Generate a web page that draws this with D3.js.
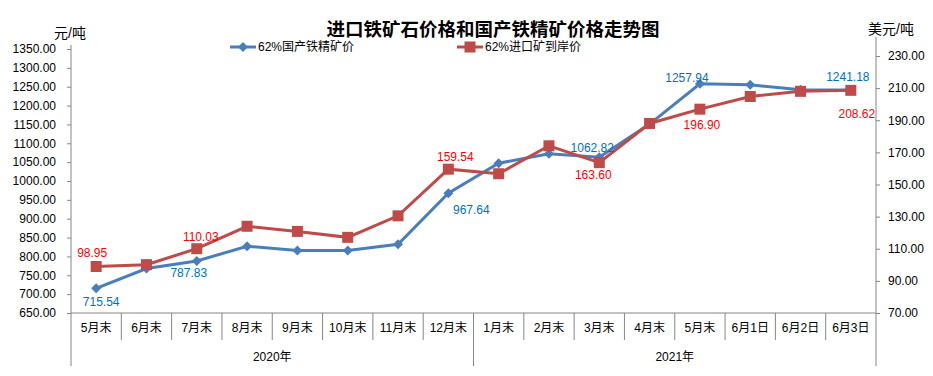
<!DOCTYPE html>
<html><head><meta charset="utf-8">
<script src="https://cdn.jsdelivr.net/npm/d3@7"></script>
<style>
body{margin:0;background:#fff;}
text{font-family:"Liberation Sans","Noto Sans CJK SC",sans-serif;}
</style></head>
<body><svg id="c" width="933" height="376"></svg>
<script>
const categories = ["5月末","6月末","7月末","8月末","9月末","10月末","11月末","12月末","1月末","2月末","3月末","4月末","5月末","6月1日","6月2日","6月3日"];
const years = [{name:"2020年", from:0, to:8},{name:"2021年", from:8, to:16}];
const domestic = [715.54,768,787.83,827,816,816,832,967.64,1047,1072,1062.82,1151,1257.94,1255,1242,1241.18];
const imported = [98.95,100.1,110.03,124,120.8,117.1,130.5,159.54,156.7,174.1,163.60,188,196.90,204.8,208,208.62];
const leftTicks = d3.range(650,1351,50);
const rightTicks = d3.range(70,231,20);
const domesticName = "62%国产铁精矿价";
const importedName = "62%进口矿到岸价";
const title = "进口铁矿石价格和国产铁精矿价格走势图";
const domesticLabelIdx = [0,2,7,10,12,15];
const importedLabelIdx = [0,2,7,10,12,15];

// layout (not data)
const domLabelOff = {0:[5,14],2:[-8,12],7:[23,17],10:[-7,-9],12:[-13,-6],15:[-3,-13]};
const impLabelOff = {0:[-4,-13],2:[4,-12],7:[7,-12],10:[-6,12],12:[2,16],15:[6,24]};
const L=71, R=876, T=49, B=313;
const blue="#4A7EBB", red="#BE4B48", axisCol="#868686";

const svg=d3.select("#c");
const x=d3.scaleBand().domain(d3.range(categories.length)).range([L,R]).padding(0);
const yL=d3.scaleLinear().domain([650,1350]).range([B,T]);
const yR=d3.scaleLinear().domain([70,230]).range([B,56]);

const gl=svg.append("g").attr("transform",`translate(${L},0)`)
  .call(d3.axisLeft(yL).tickValues(leftTicks).tickFormat(d3.format(".2f")).tickSize(4).tickPadding(11).tickSizeOuter(0));
const gr=svg.append("g").attr("transform",`translate(${R},0)`)
  .call(d3.axisRight(yR).tickValues(rightTicks).tickFormat(d3.format(".2f")).tickSize(4).tickPadding(8).tickSizeOuter(0));
[gl,gr].forEach(g=>{
  g.select(".domain").attr("stroke",axisCol);
  g.selectAll(".tick line").attr("stroke",axisCol);
  g.selectAll(".tick text").attr("font-size",12).attr("fill","#000");
});
gl.select(".domain").attr("d",`M0,${B}V${T-4}`);
gr.select(".domain").attr("d",`M0,${B}V${T-12}`);

svg.append("line").attr("x1",L).attr("x2",R).attr("y1",B).attr("y2",B).attr("stroke",axisCol);
const bounds=d3.range(categories.length+1);
svg.selectAll(".sep").data(bounds).join("line")
  .attr("x1",i=>i<categories.length?x(i):R).attr("x2",i=>i<categories.length?x(i):R)
  .attr("y1",B).attr("y2",i=>years.some(y=>y.from===i||y.to===i)?366:340)
  .attr("stroke",axisCol);
svg.selectAll(".cat").data(categories).join("text")
  .attr("x",(d,i)=>x(i)+x.bandwidth()/2).attr("y",328).attr("text-anchor","middle")
  .attr("dominant-baseline","central").attr("font-size",12).attr("fill","#000").text(d=>d);
svg.selectAll(".yr").data(years).join("text")
  .attr("x",d=>(x(d.from)+(d.to<categories.length?x(d.to):R))/2).attr("y",357)
  .attr("text-anchor","middle").attr("dominant-baseline","central").attr("font-size",12).attr("fill","#000").text(d=>d.name);

const cx=i=>x(i)+x.bandwidth()/2;
// blue series (primary axis) first
svg.append("path").datum(domestic).attr("fill","none").attr("stroke",blue).attr("stroke-width",3)
  .attr("d",d3.line().x((d,i)=>cx(i)).y(d=>yL(d)));
svg.selectAll(".dm").data(domestic).join("path")
  .attr("transform",(d,i)=>`translate(${cx(i)},${yL(d)})`).attr("d","M0,-5L5,0L0,5L-5,0Z").attr("fill",blue);
// red series (secondary axis) on top
svg.append("path").datum(imported).attr("fill","none").attr("stroke",red).attr("stroke-width",3)
  .attr("d",d3.line().x((d,i)=>cx(i)).y(d=>yR(d)));
svg.selectAll(".sq").data(imported).join("rect")
  .attr("x",(d,i)=>cx(i)-5.5).attr("y",d=>yR(d)-5.5).attr("width",11).attr("height",11).attr("fill",red);

svg.selectAll(".dl").data(domesticLabelIdx).join("text")
  .attr("x",i=>cx(i)+domLabelOff[i][0]).attr("y",i=>yL(domestic[i])+domLabelOff[i][1])
  .attr("text-anchor","middle").attr("dominant-baseline","central").attr("font-size",12).attr("fill","#0070C0")
  .text(i=>domestic[i].toFixed(2));
svg.selectAll(".il").data(importedLabelIdx).join("text")
  .attr("x",i=>cx(i)+impLabelOff[i][0]).attr("y",i=>yR(imported[i])+impLabelOff[i][1])
  .attr("text-anchor","middle").attr("dominant-baseline","central").attr("font-size",12).attr("fill","#FF0000")
  .text(i=>imported[i].toFixed(2));

svg.append("text").attr("x",493).attr("y",29).attr("text-anchor","middle").attr("dominant-baseline","central")
  .attr("font-size",18.5).attr("font-weight","bold").attr("font-family","Noto Sans CJK SC").attr("fill","#000").text(title);
svg.append("text").attr("x",70).attr("y",33).attr("text-anchor","middle").attr("dominant-baseline","central")
  .attr("font-size",14).attr("fill","#000").text("元/吨");
svg.append("text").attr("x",891).attr("y",29).attr("text-anchor","middle").attr("dominant-baseline","central")
  .attr("font-size",14).attr("fill","#000").text("美元/吨");

const leg=[{name:domesticName,col:blue,x:230,shape:"d"},{name:importedName,col:red,x:457,shape:"s"}];
leg.forEach(l=>{
  svg.append("line").attr("x1",l.x).attr("x2",l.x+26).attr("y1",47).attr("y2",47).attr("stroke",l.col).attr("stroke-width",3);
  if(l.shape==="d") svg.append("path").attr("transform",`translate(${l.x+13},47)`).attr("d","M0,-5L5,0L0,5L-5,0Z").attr("fill",l.col);
  else svg.append("rect").attr("x",l.x+13-5.5).attr("y",41.5).attr("width",11).attr("height",11).attr("fill",l.col);
  svg.append("text").attr("x",l.x+28).attr("y",47).attr("dominant-baseline","central").attr("font-size",12).attr("fill","#000").text(l.name);
});
</script></body></html>
